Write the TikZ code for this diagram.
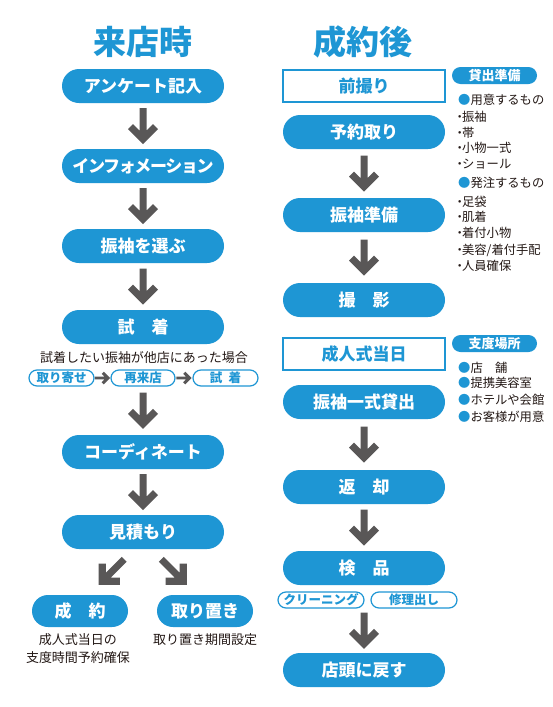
\documentclass[tikz,border=0pt]{standalone}
\usepackage{fontspec}
\setmainfont{Noto Sans CJK JP}
\usepackage{tikz}
\usetikzlibrary{calc}
\definecolor{kblue}{HTML}{1E96D4}
\definecolor{arrgray}{HTML}{595757}
\definecolor{ink}{HTML}{231815}
\newcommand\dotitem{\kern-.3em・\kern-.3em}
\newcommand\bluedot{{\color{kblue}●}}

\tikzset{
  bigarrow/.pic={
    \fill[arrgray] (-3.5,-18) -- (3.5,-18) -- (3.5,4.6) -- (10,-1.9) -- (15,3.1)
      -- (0,18.1) -- (-15,3.1) -- (-10,-1.9) -- (-3.5,4.6) -- cycle;
  }
}

\begin{document}
\begin{tikzpicture}[x=1pt,y=-1pt,
  heading/.style={text=kblue,font=\fontsize{33}{36}\selectfont\bfseries},
  flowbox/.style={fill=kblue,text=white,rounded corners=17pt,inner sep=0pt,
    minimum width=162pt,minimum height=34pt,font=\fontsize{17}{20}\selectfont\bfseries},
  eventbox/.style={draw=kblue,line width=2pt,text=kblue,inner sep=0pt,
    minimum width=162pt,minimum height=32pt,font=\fontsize{17}{20}\selectfont\bfseries},
  endbox/.style={flowbox,minimum width=96pt,minimum height=32pt,rounded corners=16pt},
  tagpill/.style={draw=kblue,line width=1.2pt,fill=white,text=kblue,rounded corners=8pt,
    inner sep=0pt,minimum height=16pt,font=\fontsize{12.5}{14}\selectfont\bfseries},
  labelpill/.style={fill=kblue,text=white,rounded corners=8.5pt,inner sep=0pt,
    minimum width=85pt,minimum height=17pt,font=\fontsize{13}{15}\selectfont\bfseries},
  note/.style={text=ink,align=center,font=\fontsize{13}{18}\selectfont},
  listline/.style={text=ink,anchor=west,inner sep=0pt,font=\fontsize{12.3}{15}\selectfont}]
  \path[fill=white,use as bounding box] (0,0) rectangle (553,707);

  \node[heading] (raiten) at (143,42) {来店時};
  \node[heading] (seiyakugo) at (363,42) {成約後};

  \node[flowbox] (anketo) at (143,86) {アンケート記入};
  \node[flowbox] (info) at (143,166) {\addfontfeature{LetterSpace=-8}インフォメーション};
  \node[flowbox] (erabu) at (143,246) {振袖を選ぶ};
  \node[flowbox] (shichaku) at (143,327) {試　着};
  \node[note] (tanten) at (144,358) {試着したい振袖が他店にあった場合};
  \node[tagpill,minimum width=65pt] (toriyose) at (61.5,378) {取り寄せ};
  \node[tagpill,minimum width=64pt] (sairai) at (143,378) {再来店};
  \node[tagpill,minimum width=65pt] (shichaku2) at (225.5,378) {試\enspace 着};
  \node[flowbox] (coord) at (143,452) {コーディネート};
  \node[flowbox] (mitsumori) at (143,532) {見積もり};
  \node[endbox] (seiyaku) at (80,611) {成　約};
  \node[endbox] (torioki) at (205,611) {取り置き};
  \node[note] (seiyakunote) at (78,649) {成人式当日の\\支度時間予約確保};
  \node[note] (toriokinote) at (205,640) {取り置き期間設定};

  \node[eventbox] (maedori) at (364,86) {前撮り};
  \node[flowbox] (yoyaku) at (364,132) {予約取り};
  \node[flowbox] (junbi) at (364,215) {振袖準備};
  \node[flowbox] (satsuei) at (364,300) {撮　影};
  \node[eventbox] (seijin) at (364,354) {成人式当日};
  \node[flowbox] (kashidashi) at (364,402) {振袖一式貸出};
  \node[flowbox] (henkyaku) at (364,487) {返　却};
  \node[flowbox] (kenpin) at (364,568) {検　品};
  \node[tagpill,minimum width=86pt] (cleaning) at (321,600) {クリーニング};
  \node[tagpill,minimum width=86pt] (shuuri) at (414,600) {修理出し};
  \node[flowbox] (tento) at (364,670) {店頭に戻す};

  \node[labelpill] (kashiprep) at (494.5,75.5) {貸出準備};
  \node[listline] (youi) at (458,100) {\bluedot 用意するもの};
  \node[listline] (hacchu) at (458,183) {\bluedot 発注するもの};
  \foreach \y/\t in {117/振袖,133/帯,148/小物一式,164/ショール,202/足袋,217/肌着,
      233/着付小物,250/{美容/着付手配},266/人員確保}
    \node[listline] (item\y) at (457,\y) {\dotitem\t};

  \node[labelpill] (shitaku) at (494.5,343.5) {支度場所};
  \foreach \y/\t in {368/店　舗,383/提携美容室,400/ホテルや会館,417/お客様が用意}
    \node[listline] (place\y) at (458,\y) {\bluedot\t};

  \foreach \a/\b in {anketo/info,info/erabu,erabu/shichaku,sairai/coord,coord/mitsumori,
      yoyaku/junbi,junbi/satsuei,kashidashi/henkyaku,henkyaku/kenpin}
    \pic at ($(\a.south)!.5!(\b.north)$) {bigarrow};
  \pic at ($(kenpin.south |- cleaning.south)!.5!(tento.north)$) {bigarrow};
  \pic[rotate=-45] at ($(mitsumori.south)!.5!(seiyaku.north)$) {bigarrow};
  \pic[rotate=45] at ($(mitsumori.south)!.5!(torioki.north)$) {bigarrow};
  \pic[scale=.42,rotate=90] at ($(toriyose.east)!.5!(sairai.west)$) {bigarrow};
  \pic[scale=.42,rotate=90] at ($(sairai.east)!.5!(shichaku2.west)$) {bigarrow};
\end{tikzpicture}
\end{document}
